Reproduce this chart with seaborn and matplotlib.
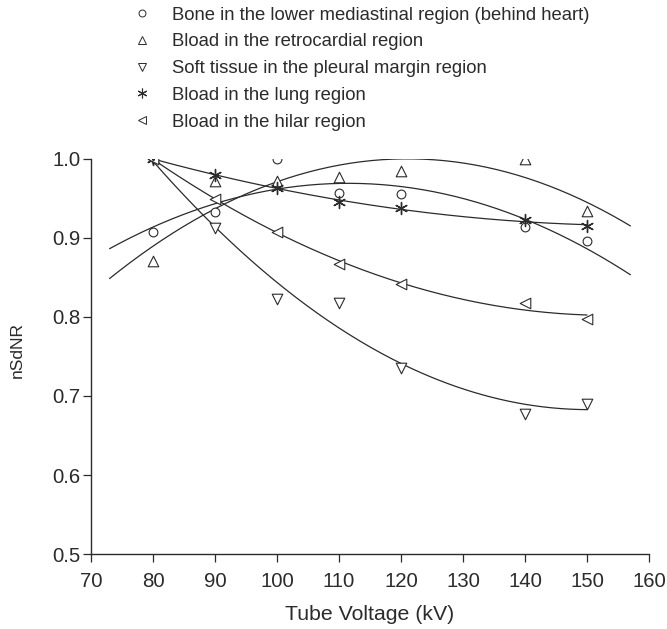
import numpy as np
import pandas as pd
import matplotlib
matplotlib.use("Agg")
import matplotlib.pyplot as plt
from matplotlib.lines import Line2D
import seaborn as sns

# ---- data ----
kv = [80, 90, 100, 110, 120, 140, 150]
bone_mediastinal = [0.907, 0.933, 1.000, 0.956, 0.955, 0.913, 0.896]
blood_retrocardial = [0.870, 0.972, 0.971, 0.977, 0.984, 1.000, 0.934]
soft_pleural = [1.000, 0.912, 0.822, 0.817, 0.735, 0.677, 0.690]
blood_lung = [1.000, 0.979, 0.963, 0.945, 0.937, 0.922, 0.915]
blood_hilar = [1.000, 0.949, 0.907, 0.867, 0.842, 0.817, 0.797]

labels = [
    "Bone in the lower mediastinal region (behind heart)",
    "Bload in the retrocardial region",
    "Soft tissue in the pleural margin region",
    "Bload in the lung region",
    "Bload in the hilar region",
]
x_ticks = [70, 80, 90, 100, 110, 120, 130, 140, 150, 160]
y_ticks = [0.5, 0.6, 0.7, 0.8, 0.9, 1.0]

series = [bone_mediastinal, blood_retrocardial, soft_pleural, blood_lung, blood_hilar]
markers = ["o", "^", "v", (6, 2, 0), "<"]
marker_area = [40, 58, 58, 75, 58]
legend_msize = [5.0, 5.6, 5.6, 7.0, 5.6]
fit_ranges = [(73, 157), (73, 157), (80, 150), (80, 150), (80, 150)]

sns.set_style("ticks")
plt.rcParams["font.family"] = ["Liberation Sans", "DejaVu Sans"]
INK = "#2b2b2b"

fig = plt.figure(figsize=(6.67, 6.29), dpi=100)
ax = fig.add_axes([0.1364, 0.1188, 0.8366, 0.6292])

rows = []
for lab, vals in zip(labels, series):
    for k, v in zip(kv, vals):
        rows.append({"kV": k, "nSdNR": v, "series": lab})
df = pd.DataFrame(rows)

# fitted curves (quadratic least squares)
for lab, vals, (x0, x1) in zip(labels, series, fit_ranges):
    coef = np.polyfit(kv, vals, 2)
    xs = np.linspace(x0, x1, 200)
    sns.lineplot(x=xs, y=np.polyval(coef, xs), ax=ax, color=INK, lw=0.9,
                 legend=False)

# markers
for lab, m, s in zip(labels, markers, marker_area):
    sub = df[df["series"] == lab]
    if isinstance(m, tuple):
        sns.scatterplot(data=sub, x="kV", y="nSdNR", ax=ax, marker=m,
                        s=s, color=INK, linewidth=1.0, legend=False, zorder=3)
        sns.scatterplot(data=sub, x="kV", y="nSdNR", ax=ax, marker="o",
                        s=5, color=INK, linewidth=0, legend=False, zorder=4)
    else:
        sns.scatterplot(data=sub, x="kV", y="nSdNR", ax=ax, marker=m,
                        s=s, facecolor="white", edgecolor=INK,
                        linewidth=0.8, legend=False, zorder=3)

ax.set_xlim(70, 160)
ax.set_ylim(0.5, 1.0)
ax.set_xticks(x_ticks)
ax.set_yticks(y_ticks)
ax.set_yticklabels([f"{t:.1f}" for t in y_ticks])
ax.tick_params(axis="both", labelsize=14.7, colors=INK, length=6, width=0.9,
               direction="out")
ax.tick_params(axis="x", pad=7)
ax.tick_params(axis="y", pad=1.5)
for s in ["left", "bottom"]:
    ax.spines[s].set_color(INK)
    ax.spines[s].set_linewidth(1.0)
sns.despine(ax=ax)
ax.set_xlabel("Tube Voltage (kV)", fontsize=15.3, color=INK, labelpad=10)
ax.set_ylabel("nSdNR", fontsize=12.5, color=INK)
ax.yaxis.set_label_coords(-0.1317, 0.515)
ax.yaxis.label.set_verticalalignment("center")

handles = []
for m, ms in zip(markers, legend_msize):
    if isinstance(m, tuple):
        handles.append(Line2D([], [], ls="none", marker=m, markersize=ms,
                              color=INK, markeredgewidth=0.8))
    else:
        handles.append(Line2D([], [], ls="none", marker=m, markersize=ms,
                              markerfacecolor="white", markeredgecolor=INK,
                              markeredgewidth=0.7))
leg = fig.legend(handles, labels, loc="upper left",
                 bbox_to_anchor=(132.5 / 667, 1 - 6.6 / 629), frameon=False,
                 fontsize=13.3, handlelength=1.0, handletextpad=1.12,
                 labelspacing=0.528, borderpad=0, borderaxespad=0)
for t in leg.get_texts():
    t.set_color(INK)

fig.savefig("out.png", dpi=100)
